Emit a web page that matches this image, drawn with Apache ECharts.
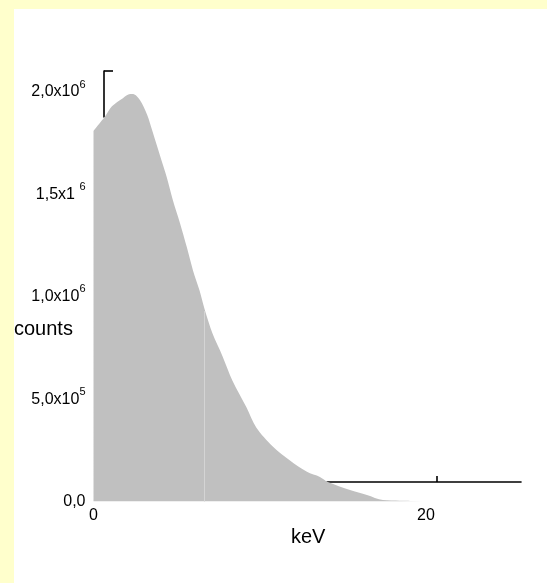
<!DOCTYPE html>
<html>
<head>
<meta charset="utf-8">
<script src="https://cdn.jsdelivr.net/npm/echarts@6/dist/echarts.min.js"></script>
<style>
html,body{margin:0;padding:0;background:#ffffcc;}
#chart{width:547px;height:583px;}
</style>
</head>
<body>
<div id="chart"></div>
<script>
// ---- data (keV, counts) ----
const energies = [0, 0.69, 1.11, 1.77, 2.20, 2.38, 2.80, 3.22, 3.58, 4.00, 4.42, 4.78, 5.20, 5.62, 5.98, 6.38, 6.68, 7.16, 7.76, 8.36, 9.20, 9.80, 10.77, 11.82, 12.84, 13.62, 14.10, 15.43, 16.45, 17.41, 18.43, 19.82];
const counts = [1.81e6, 1.88e6, 1.93e6, 1.97e6, 1.99e6, 1.99e6, 1.96e6, 1.89e6, 1.80e6, 1.69e6, 1.58e6, 1.47e6, 1.36e6, 1.24e6, 1.13e6, 1.03e6, 0.94e6, 0.82e6, 0.71e6, 0.59e6, 0.46e6, 0.36e6, 0.27e6, 0.20e6, 0.145e6, 0.12e6, 0.095e6, 0.056e6, 0.032e6, 0.007e6, 0.004e6, 0.003e6];
const yTickValues = [0, 5e5, 1e6, 1.5e6, 2e6];
const yTickMantissa = ['0,0', '5,0x10', '1,0x10', '1,5x1 ', '2,0x10'];
const yTickExp = ['', '5', '6', '6', '6'];
const xTickValues = [0, 20];
const xTickLabels = ['0', '20'];
const faintLineAt = [6.68, 0.93e6];
const strayXTick = [20];

const FONT = "'Liberation Sans', Arial, sans-serif";
const chart = echarts.init(document.getElementById('chart'));
const seriesData = energies.map((e, i) => [e, counts[i]]);

chart.setOption({
  backgroundColor: '#ffffcc',
  animation: false,
  graphic: [{
    type: 'rect', z: -10, silent: true,
    shape: {x: 14, y: 9, width: 533, height: 574},
    style: {fill: '#ffffff'}
  }],
  title: [
    {text: 'counts', left: 14, top: 319, padding: 0,
     textStyle: {fontFamily: FONT, fontSize: 20, fontWeight: 'normal', color: '#000'}},
    {text: 'keV', left: 291, top: 527, padding: 0,
     textStyle: {fontFamily: FONT, fontSize: 20, fontWeight: 'normal', color: '#000'}}
  ],
  grid: [
    {left: 93.5, width: 415.6, top: 92, bottom: 81.5},
    {left: 327, width: 194, top: 472, height: 10},
    {left: 104, width: 20, top: 71, height: 46}
  ],
  xAxis: [
    {gridIndex: 0, type: 'value', min: 0, max: 25, interval: 5,
     axisLine: {show: false}, axisTick: {show: false}, splitLine: {show: false},
     axisLabel: {margin: 6, color: '#000', fontFamily: FONT, fontSize: 16,
       formatter: v => { const i = xTickValues.indexOf(v); return i >= 0 ? xTickLabels[i] : ''; }}},
    {gridIndex: 1, type: 'value', min: 13.383, max: 25.05,
     axisLine: {show: true, lineStyle: {color: '#000', width: 1.6}},
     axisTick: {show: true, inside: true, length: 6, customValues: strayXTick, lineStyle: {color: '#000', width: 1.6}},
     axisLabel: {show: false}, splitLine: {show: false}},
    {gridIndex: 2, type: 'value', show: false, min: 0, max: 1}
  ],
  yAxis: [
    {gridIndex: 0, type: 'value', min: 0, max: 2e6, interval: 5e5,
     axisLine: {show: false}, axisTick: {show: false}, splitLine: {show: false},
     axisLabel: {margin: 8, color: '#000',
       formatter: v => {
         const i = yTickValues.indexOf(v);
         if (i < 0) return '';
         return '{a|' + yTickMantissa[i] + '}' + (yTickExp[i] ? '{s|' + yTickExp[i] + '}' : '');
       },
       rich: {
         a: {fontFamily: FONT, fontSize: 16, color: '#000', lineHeight: 26},
         s: {fontFamily: FONT, fontSize: 11, color: '#000', verticalAlign: 'top', lineHeight: 26}
       }}},
    {gridIndex: 1, type: 'value', show: false, min: 0, max: 1},
    {gridIndex: 2, type: 'value', min: 0, max: 1, position: 'left',
     axisLine: {show: true, lineStyle: {color: '#000', width: 1.6}},
     axisTick: {show: true, inside: true, length: 9, customValues: [1], lineStyle: {color: '#000', width: 1.6}},
     axisLabel: {show: false}, splitLine: {show: false}}
  ],
  series: [{
    type: 'line', xAxisIndex: 0, yAxisIndex: 0,
    data: seriesData, showSymbol: false, symbol: 'none', smooth: 0.3,
    lineStyle: {width: 0, color: '#c0c0c0'},
    areaStyle: {color: '#c0c0c0', opacity: 1},
    markLine: {
      silent: true, symbol: 'none', label: {show: false},
      lineStyle: {color: '#d4d4d4', width: 1, type: 'solid'},
      data: [[{coord: [faintLineAt[0], 0]}, {coord: faintLineAt}]]
    }
  }]
});
</script>
</body>
</html>
